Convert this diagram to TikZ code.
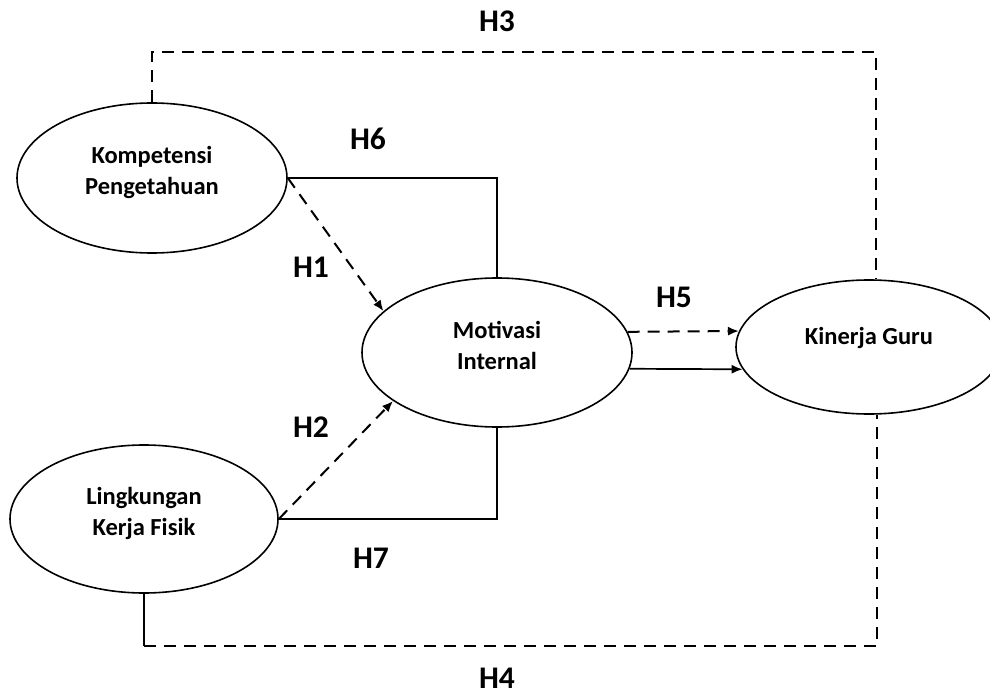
\documentclass[tikz,border=0pt]{standalone}
\usepackage{fontspec}
\setmainfont{Carlito}
\usetikzlibrary{shapes.geometric,arrows.meta}

\tikzset{
  latent/.style={ellipse, draw, line width=1.6pt},
  inner/.style={align=center, font=\bfseries\fontsize{24.5}{31}\selectfont},
  hyp/.style={inner sep=1pt, font=\bfseries\fontsize{31.5}{36}\selectfont},
  direct/.style={line width=2pt, dash pattern=on 12pt off 8pt},
  indirect/.style={line width=1.7pt},
  tip/.style={-{Latex[length=11pt,width=9pt]}}
}

\begin{document}
\begin{tikzpicture}[x=1pt, y=-1pt]

    \clip (0,0) rectangle (990,695);

    % Define nodes
    \node[latent, minimum width=270pt, minimum height=150pt,
          label={[inner, yshift=6pt]center:Kompetensi\\Pengetahuan}]  (kp) at (152,178) {};
    \node[latent, minimum width=268pt, minimum height=148pt,
          label={[inner, yshift=6pt]center:Lingkungan\\Kerja Fisik}]  (lk) at (144,519) {};
    \node[latent, minimum width=270pt, minimum height=149pt,
          label={[inner, yshift=7pt]center:Motivasi\\Internal}]        (mi) at (497,352.5) {};
    \node[latent, minimum width=266pt, minimum height=134pt,
          label={[inner, yshift=9pt]center:Kinerja Guru}]             (kg) at (869,347) {};

    % Corners of the outer paths
    \coordinate (top) at (0,52);
    \coordinate (bot) at (0,646);

    % Connect the nodes
    \draw[direct] (kp.north) -- (kp.north |- top) -| ([xshift=7pt]kg.north);
    \draw[indirect] (lk.south) -- (lk.south |- bot);
    \draw[direct] (lk.south |- bot) -| ([xshift=8pt]kg.south);
    \draw[indirect] (kp.east) -| (mi.north);
    \draw[indirect] (lk.east) -| (mi.south);
    \draw[direct, tip] (kp.east) -- (mi.160);
    \draw[direct, tip] (lk.east) -- (mi.205);
    \draw[direct, tip] (mi.9) -- (kg.173);
    \draw[indirect, tip] (mi.353) -- (kg.190);

    % Hypotheses
    \node[hyp] (h3) at (497,21)  {H3};
    \node[hyp] (h6) at (368,139) {H6};
    \node[hyp] (h1) at (311,267) {H1};
    \node[hyp] (h5) at (674,297) {H5};
    \node[hyp] (h2) at (311,427) {H2};
    \node[hyp] (h7) at (371,558) {H7};
    \node[hyp] (h4) at (497,678) {H4};

\end{tikzpicture}
\end{document}
